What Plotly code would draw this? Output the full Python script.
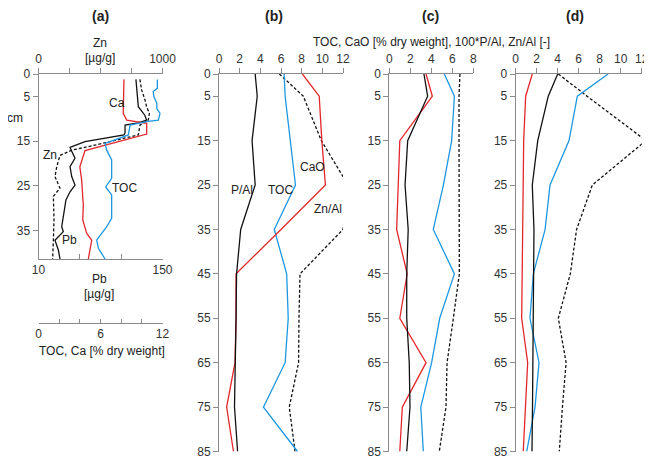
import plotly.graph_objects as go

# page body has an 8px default margin; the figure is sized to fill the rest of the window
OFF = 8
W, H = 652 - OFF, 459 - OFF
def px(x): return (x - OFF) / W
def py(y): return 1 - (y - OFF) / H

RED = "#e3262b"
BLUE = "#1d97df"
BLK = "#111111"
DOT = "3px,2px"
FONT = "Liberation Sans, Arial, sans-serif"

# ---------------- Panel (a) ----------------
a_ca_depth = [1.2, 8.8, 10.3, 11.0, 13.4, 17.1, 20.7, 23.7, 27.4, 29.3, 32.6, 35.6, 37.1, 41.3]
a_ca = [8.27, 8.2, 8.54, 10.47, 10.47, 4.5, 4.0, 4.18, 4.28, 4.34, 4.28, 4.67, 5.15, 4.82]

a_toc_depth = [1.2, 3.2, 3.9, 5.1, 6.5, 7.7, 8.8, 10.3, 10.6, 11.4, 13.6, 15.5, 17.0, 19.2, 23.3, 25.2, 27.0, 32.2, 34.1, 37.1, 38.9, 41.3]
a_toc = [11.5, 11.5, 11.1, 11.17, 11.45, 11.45, 11.76, 11.6, 10.6, 8.86, 8.7, 6.44, 6.6, 7.08, 7.08, 6.5, 7.08, 7.08, 6.6, 5.63, 5.8, 6.44]

a_pb_depth = [1.2, 3.2, 5.1, 7.3, 9.2, 10.3, 10.9, 11.4, 13.1, 13.6, 15.1, 16.4, 17.0, 18.8, 20.7, 22.9, 24.8, 26.3, 28.1, 29.3, 31.9, 34.1, 35.2, 37.1, 39.3, 41.3]
a_pb = [120, 121, 122, 122.7, 130, 132, 122.7, 107.7, 107.7, 106.5, 62.5, 45.6, 47.0, 51.2, 45.6, 47.5, 51.2, 45.6, 41, 39.9, 38, 36.2, 38, 28.6, 32.4, 34.3]

a_zn_depth = [1.2, 3.6, 5.8, 7.3, 8.8, 10.3, 11.4, 12.9, 13.6, 15.8, 17.0, 18.2, 20.7, 22.9, 25.5, 27.3, 32.6, 37.1, 41.3]
a_zn = [818, 832, 859, 872, 894, 885, 818, 805, 805, 469, 268, 173, 147, 133, 173, 120, 125, 120, 114]

# ---------------- Panels (b)-(d) ----------------
depth = [0, 5, 15, 25, 35, 45, 55, 65, 75, 85]

b_pal = [3.5, 3.7, 3.2, 3.5, 2.1, 1.7, 1.65, 1.6, 1.5, 1.8]
b_toc = [6.3, 6.4, 6.9, 7.4, 5.35, 6.55, 6.7, 6.4, 4.3, 7.6]
b_cao = [8.07, 9.7, 9.95, 10.3, 6.0, 1.65, 1.65, 1.55, 0.74, 1.4]
b_znal = [5.84, 8.16, 9.9, 12.5, 12.0, 7.84, 7.74, 7.7, 6.8, 7.36]

c_pal = [3.3, 3.65, 1.75, 1.5, 1.8, 1.66, 1.66, 1.9, 1.97, 1.66]
c_toc = [5.24, 6.2, 5.94, 5.15, 4.19, 6.2, 4.8, 4.03, 3.0, 3.24]
c_cao = [3.5, 4.1, 1.0, 0.86, 0.7, 1.7, 1.0, 3.5, 1.24, 1.0]
c_znal = [6.73, 6.64, 6.64, 6.64, 6.64, 6.67, 6.1, 5.5, 5.4, 4.76]

d_pal = [4.0, 3.1, 2.1, 1.58, 1.74, 1.72, 1.68, 1.68, 1.6, 1.55]
d_toc = [8.8, 5.87, 5.08, 3.27, 2.8, 1.68, 1.36, 2.22, 1.84, 1.05]
d_cao = [1.58, 0.95, 0.76, 0.7, 0.63, 0.63, 0.57, 1.14, 0.95, 0.72]
d_znal = [4.06, 6.8, 12.4, 7.3, 5.8, 5.2, 4.06, 4.8, 4.45, 4.15]

fig = go.Figure()

def line(x, y, xa, ya, color, dash=None):
    fig.add_trace(go.Scatter(x=x, y=y, xaxis=xa, yaxis=ya, mode="lines",
                             line=dict(color=color, width=1.3, dash=dash),
                             showlegend=False, hoverinfo="skip", cliponaxis=False))

# panel a: x = Zn (top), x2 = Pb (bottom), x3 = TOC/Ca (free)
line(a_ca, a_ca_depth, "x3", "y", RED)
line(a_toc, a_toc_depth, "x3", "y", BLUE)
line(a_pb, a_pb_depth, "x2", "y", BLK)
line(a_zn, a_zn_depth, "x", "y", BLK, DOT)

for xa, ya, pal, toc, cao, znal in [("x4", "y2", b_pal, b_toc, b_cao, b_znal),
                                     ("x5", "y3", c_pal, c_toc, c_cao, c_znal),
                                     ("x6", "y4", d_pal, d_toc, d_cao, d_znal)]:
    line(znal, depth, xa, ya, BLK, DOT)
    line(toc, depth, xa, ya, BLUE)
    line(cao, depth, xa, ya, RED)
    line(pal, depth, xa, ya, BLK)

AXC = "#8a8a8a"
TF = dict(family=FONT, size=12, color="#333333")
common = dict(showgrid=False, zeroline=False, showline=True, linecolor=AXC, linewidth=1,
              tickcolor=AXC, ticklen=5, tickwidth=1, tickfont=TF, automargin=False,
              ticklabeloverflow="allow")

yd_a = [py(259), py(74)]
yd_b = [py(451.5), py(74)]
DEPTH_TICKS = [0, 5, 15, 25, 35, 45, 55, 65, 75, 85]

layout = dict(
    width=W, height=H, margin=dict(l=0, r=0, t=0, b=0, autoexpand=False),
    paper_bgcolor="white", plot_bgcolor="rgba(0,0,0,0)",
    font=dict(family=FONT, size=12, color="#333333"),
    xaxis=dict(domain=[px(38.5), px(162.5)], range=[0, 1000], side="top", anchor="y",
               ticks="outside", tickvals=[0, 250, 500, 750, 1000],
               ticktext=["0", "", "", "", "1000"], **common),
    xaxis2=dict(overlaying="x", range=[10, 150], side="bottom", anchor="y",
                ticks="inside", tickvals=[10, 56.67, 103.33, 150],
                ticktext=["10", "", "", "150"], **common),
    xaxis3=dict(overlaying="x", range=[0, 12], side="bottom", anchor="free", position=py(323),
                ticks="inside", tickvals=[0, 2, 4, 6, 8, 10, 12],
                ticktext=["0", "", "", "6", "", "", "12"], **{**common, "ticklen": 4}),
    yaxis=dict(domain=yd_a, range=[41.3, 0], anchor="x", ticks="outside",
               tickvals=[0, 5, 15, 25, 35], **common),
    xaxis4=dict(domain=[px(219), px(343)], range=[0, 12], side="top", anchor="y2",
                ticks="outside", tickvals=list(range(0, 13, 2)), **common),
    yaxis2=dict(domain=yd_b, range=[85, 0], anchor="x4", ticks="outside",
                tickvals=DEPTH_TICKS, **common),
    xaxis5=dict(domain=[px(389.3), px(473.3)], range=[0, 8], side="top", anchor="y3",
                ticks="outside", tickvals=list(range(0, 9, 2)), **common),
    yaxis3=dict(domain=yd_b, range=[85, 0], anchor="x5", ticks="outside",
                tickvals=DEPTH_TICKS, **common),
    xaxis6=dict(domain=[px(515.7), px(641.7)], range=[0, 12], side="top", anchor="y4",
                ticks="outside", tickvals=list(range(0, 13, 2)), **common),
    yaxis4=dict(domain=yd_b, range=[85, 0], anchor="x6", ticks="outside",
                tickvals=DEPTH_TICKS, **common),
)
fig.update_layout(**layout)

def ann(text, x, y, size=12, bold=False):
    if bold:
        text = "<b>" + text + "</b>"
    fig.add_annotation(text=text, x=px(x), y=py(y), xref="paper", yref="paper",
                       showarrow=False, xanchor="center", yanchor="middle",
                       font=dict(family=FONT, size=size, color="#222222"))

ann("(a)", 100, 16, 14, True)
ann("(b)", 274, 16, 14, True)
ann("(c)", 430, 16, 14, True)
ann("(d)", 575, 16, 14, True)
ann("TOC, CaO [% dry weight], 100*P/Al, Zn/Al [-]", 431, 42, 12)
ann("Zn", 100, 43)
ann("[µg/g]", 100, 58)
ann("cm", 15, 118)
ann("Pb", 99, 279)
ann("[µg/g]", 99, 294)
ann("TOC, Ca [% dry weight]", 102, 351)
ann("Ca", 117, 103)
ann("Zn", 50, 155)
ann("TOC", 124, 188)
ann("Pb", 69, 240)
ann("P/Al", 242, 190)
ann("TOC", 280, 190)
ann("CaO", 312, 167)
ann("Zn/Al", 328, 209)

fig.write_html("out.html")
